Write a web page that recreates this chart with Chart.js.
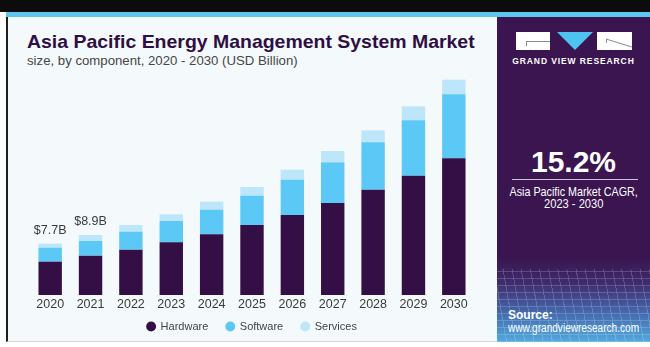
<!DOCTYPE html>
<html>
<head>
<meta charset="utf-8">
<script src="https://cdn.jsdelivr.net/npm/chart.js@4.4.1/dist/chart.umd.min.js"></script>
<style>
  body { margin: 0; background: #fff; width: 650px; height: 347px; overflow: hidden; position: relative; font-family: "Liberation Sans", Arial, sans-serif; }
  .abs { position: absolute; white-space: nowrap; }
  #topband { left: 0; top: 0; width: 650px; height: 12px; background: #0c0c0c; }
  #card { left: 6px; top: 12px; width: 644px; height: 329px; background: #f4f9fb; border-left: 2px solid #1e1e1e; border-bottom: 1px solid #d4d8da; }
  #stripe { left: 6px; top: 12px; width: 644px; height: 5px; background: #5bc6ee; }
  #title { left: 27px; top: 32.5px; font-weight: bold; font-size: 18.5px; line-height: 18.5px; color: #2e0f44; transform-origin: left top; }
  #subtitle { left: 27px; top: 53.5px; font-size: 13px; line-height: 13px; color: #464646; transform-origin: left top; }
  #panel { left: 497px; top: 17px; width: 153px; height: 325px;
    background: linear-gradient(to bottom, #3a1550 0%, #3a1550 74%, #3f2c6e 82%, #4469ad 91%, #52aadf 100%); overflow: hidden; }
  #grid { left: 0; top: 252px; width: 153px; height: 73px; opacity: 0.3;
    background-image: repeating-linear-gradient(80deg, rgba(255,255,255,0.6) 0 1px, transparent 1px 9px),
                      repeating-linear-gradient(0deg, rgba(255,255,255,0.6) 0 1px, transparent 1px 7px); }
  .ptxt { color: #fff; transform-origin: center top; }
  #chartBox { left: 8px; top: 70px; width: 489px; height: 283px; }
</style>
</head>
<body>
<div class="abs" id="topband"></div>
<div class="abs" id="card"></div>
<div class="abs" id="stripe"></div>
<div class="abs" id="title">Asia Pacific Energy Management System Market</div>
<div class="abs" id="subtitle">size, by component, 2020 - 2030 (USD Billion)</div>

<div class="abs" id="panel">
  <div class="abs" id="grid"></div>
  <svg class="abs" style="left:19px;top:15px" width="117" height="19">
    <rect x="0" y="0" width="34" height="18" fill="#fff"/>
    <line x1="10" y1="9.5" x2="34" y2="9.5" stroke="#8a8a9a" stroke-width="1"/>
    <line x1="10.5" y1="9" x2="10.5" y2="14" stroke="#8a8a9a" stroke-width="1"/>
    <polygon points="41,0 77,0 59,18" fill="#4fc3f0"/>
    <rect x="81" y="0" width="35" height="18" fill="#fff"/>
    <line x1="90" y1="7" x2="116" y2="15" stroke="#8a8a9a" stroke-width="1"/>
    <line x1="90.5" y1="7" x2="90.5" y2="11" stroke="#8a8a9a" stroke-width="1"/>
  </svg>
  <div class="abs ptxt" style="left:0;width:153px;top:40px;text-align:center;font-weight:bold;font-size:8.5px;line-height:9px;letter-spacing:0.9px">GRAND VIEW RESEARCH</div>
  <div class="abs ptxt" style="left:0;width:153px;top:130px;text-align:center;font-weight:bold;font-size:30px;line-height:30px">15.2%</div>
  <div class="abs" style="left:15px;top:162px;width:126px;height:1px;background:rgba(255,255,255,0.75)"></div>
  <div class="abs ptxt fit" data-w="128" style="left:13px;top:169px;font-size:13px;line-height:12px">Asia Pacific Market CAGR,</div>
  <div class="abs ptxt fit" data-w="59" style="left:46px;top:181px;font-size:13px;line-height:12px">2023 - 2030</div>
  <div class="abs ptxt" style="left:11px;top:292px;font-weight:bold;font-size:12px;line-height:12px">Source:</div>
  <div class="abs ptxt fit" data-w="131" style="left:11px;top:305px;font-size:12px;line-height:12px;transform-origin:left top">www.grandviewresearch.com</div>
</div>

<div class="abs" id="chartBox"><canvas id="chart"></canvas></div>

<script>
(() => {

//----- Data -----//

    const years = ['2020', '2021', '2022', '2023', '2024', '2025', '2026', '2027', '2028', '2029', '2030']
    const hardware = [5.0, 5.9, 6.8, 7.9, 9.1, 10.5, 12.0, 13.8, 15.8, 17.9, 20.5]
    const software = [2.1, 2.2, 2.7, 3.2, 3.7, 4.4, 5.3, 6.1, 7.1, 8.3, 9.6]
    const services = [0.6, 0.9, 1.0, 1.0, 1.2, 1.3, 1.5, 1.7, 1.8, 2.1, 2.2]
    const totalLabels = ['$7.7B', '$8.9B']

//----- Squeeze html texts to the widths of the picture -----//

    function fitWidth(el, w) {
        el.style.transform = 'scaleX(' + (w / el.offsetWidth) + ')'
    }
    fitWidth(document.getElementById('title'), 448)
    fitWidth(document.getElementById('subtitle'), 271)
    document.querySelectorAll('.fit').forEach((el) => {
        if (el.style.transformOrigin !== 'left top') el.style.left = (76.5 - el.offsetWidth / 2) + 'px'
        fitWidth(el, +el.dataset.w)
    })

//----- Plugins -----//

    const totalsPlugin = {
        id: 'totals',
        afterDatasetsDraw(chart) {
            const ctx = chart.ctx
            const meta = chart.getDatasetMeta(2)
            ctx.save()
            ctx.font = '12.5px "Liberation Sans", Arial, sans-serif'
            ctx.fillStyle = '#3a3a3a'
            ctx.textAlign = 'center'
            ctx.textBaseline = 'middle'
            totalLabels.forEach((txt, i) => {
                const bar = meta.data[i]
                ctx.fillText(txt, bar.x, bar.y - 13)
            })
            ctx.restore()
        }
    }

    // legend keeps its wide item gap but sits a bit higher
    const legendLift = {
        id: 'legendLift',
        afterInit(chart) {
            const draw = chart.legend.draw
            chart.legend.draw = function () {
                this.ctx.save()
                this.ctx.translate(0, -11)
                draw.call(this)
                this.ctx.restore()
            }
        }
    }

//----- Create Chart -----//

    new Chart(document.getElementById('chart'), {
        type: 'bar',
        data: {
            labels: years,
            datasets: [
                { label: 'Hardware', data: hardware, backgroundColor: '#330f46' },
                { label: 'Software', data: software, backgroundColor: '#5bc8f5' },
                { label: 'Services', data: services, backgroundColor: '#bde6fa' }
            ]
        },
        options: {
            responsive: true,
            maintainAspectRatio: false,
            animation: false,
            categoryPercentage: 1,
            barPercentage: 0.58,
            layout: { padding: { top: 5, left: 22, right: 23, bottom: 0 } },
            scales: {
                x: {
                    stacked: true,
                    grid: { display: false, drawTicks: false },
                    border: { display: false },
                    ticks: { color: '#3a3a3a', padding: 2, font: { size: 12.5, family: '"Liberation Sans", Arial, sans-serif' } }
                },
                y: { stacked: true, display: false, min: 0, max: 33 }
            },
            plugins: {
                tooltip: { enabled: false },
                legend: {
                    position: 'bottom',
                    labels: {
                        usePointStyle: true,
                        pointStyle: 'circle',
                        boxWidth: 8,
                        boxHeight: 7,
                        padding: 18,
                        color: '#444',
                        font: { size: 11, family: '"Liberation Sans", Arial, sans-serif' }
                    }
                }
            }
        },
        plugins: [totalsPlugin, legendLift]
    })

})();
</script>
</body>
</html>
